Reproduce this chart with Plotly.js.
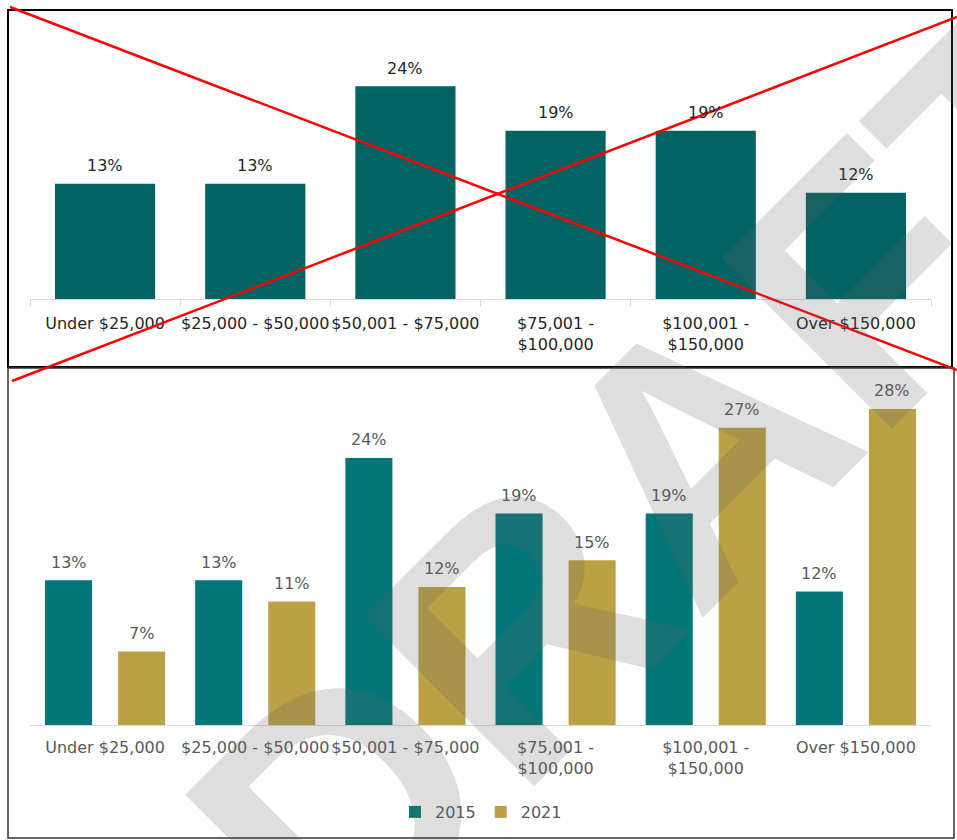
<!DOCTYPE html>
<html>
<head>
<meta charset="utf-8">
<script src="https://cdn.plot.ly/plotly-3.0.1.min.js"></script>
<style>html,body{margin:0;padding:0;background:#fff;}#chart{width:957px;height:840px;}</style>
</head>
<body>
<div id="chart"></div>
<script>
// ---- data ----
const categories = ['Under $25,000', '$25,000 - $50,000', '$50,001 - $75,000', '$75,001 - $100,000', '$100,001 - $150,000', 'Over $150,000'];
const tickLabels = ['Under $25,000', '$25,000 - $50,000', '$50,001 - $75,000', '$75,001 -<br>$100,000', '$100,001 -<br>$150,000', 'Over $150,000'];
const values2015 = [13.0, 13.0, 24.0, 19.0, 19.0, 12.0];
const values2021 = [6.6, 11.1, 12.4, 14.8, 26.7, 28.4];
const seriesNames = ['2015', '2021'];
const watermarkText = 'DRAFT';

// ---- styles ----
const W = 957, H = 840;
const FONT = 'DejaVu Sans, sans-serif';
const px = v => v / W;
const py = v => 1 - v / H;
const fmt = v => Math.round(v) + '%';

const traces = [
  { type: 'bar', x: categories, y: values2015, xaxis: 'x', yaxis: 'y', width: 0.667,
    marker: { color: '#036363' }, showlegend: false, hoverinfo: 'skip' },
  { type: 'bar', name: seriesNames[0], x: categories, y: values2015, xaxis: 'x2', yaxis: 'y2',
    marker: { color: '#027678' }, hoverinfo: 'skip' },
  { type: 'bar', name: seriesNames[1], x: categories, y: values2021, xaxis: 'x2', yaxis: 'y2',
    marker: { color: '#BBA045' }, hoverinfo: 'skip' }
];

const annotations = [];
categories.forEach((c, i) => {
  annotations.push({ xref: 'x', yref: 'y', x: c, y: values2015[i], text: fmt(values2015[i]),
    showarrow: false, yanchor: 'middle', yshift: 18, font: { family: FONT, size: 16, color: '#262626' } });
  annotations.push({ xref: 'x2', yref: 'y2', x: c, y: values2015[i], text: fmt(values2015[i]),
    showarrow: false, yanchor: 'middle', yshift: 18, xshift: -36.5, font: { family: FONT, size: 16, color: '#595959' } });
  annotations.push({ xref: 'x2', yref: 'y2', x: c, y: values2021[i], text: fmt(values2021[i]),
    showarrow: false, yanchor: 'middle', yshift: 18, xshift: 36.5, font: { family: FONT, size: 16, color: '#595959' } });
});
// DRAFT watermark
annotations.push({ xref: 'paper', yref: 'paper', x: px(672), y: py(476), text: watermarkText,
  showarrow: false, textangle: -45, xanchor: 'center', yanchor: 'middle',
  font: { family: 'Liberation Sans, Arial, sans-serif', size: 350, weight: 'bold', color: 'rgba(97,97,97,0.21)' } });

const layout = {
  width: W, height: H,
  margin: { l: 0, r: 0, t: 0, b: 0 },
  paper_bgcolor: '#ffffff', plot_bgcolor: 'rgba(0,0,0,0)',
  barmode: 'group', bargap: 0.027, bargroupgap: 0.356,
  font: { family: FONT, size: 16, color: '#595959' },
  xaxis: { domain: [px(30), px(931)], anchor: 'y', type: 'category', tickangle: 0,
    tickvals: categories, ticktext: tickLabels, showline: true, linecolor: '#d9d9d9', linewidth: 1,
    ticks: 'outside', tickson: 'boundaries', ticklen: 7, tickcolor: '#d9d9d9', ticklabelstandoff: 10,
    tickfont: { family: FONT, size: 16, color: '#262626' }, showgrid: false, zeroline: false, fixedrange: true },
  yaxis: { domain: [py(299), py(40)], anchor: 'x', range: [0, (299 - 40) / 8.86], visible: false, fixedrange: true },
  xaxis2: { domain: [px(30), px(931)], anchor: 'y2', type: 'category', tickangle: 0,
    tickvals: categories, ticktext: tickLabels, showline: true, linecolor: '#d9d9d9', linewidth: 1,
    ticks: '', ticklabelstandoff: 8, tickfont: { family: FONT, size: 16, color: '#595959' },
    showgrid: false, zeroline: false, fixedrange: true },
  yaxis2: { domain: [py(725), py(390)], anchor: 'x2', range: [0, (725 - 390) / 11.13], visible: false, fixedrange: true },
  legend: { orientation: 'h', x: px(481), xanchor: 'center', y: py(812), yanchor: 'middle',
    font: { family: FONT, size: 16, color: '#595959' }, itemwidth: 30, bgcolor: 'rgba(0,0,0,0)' },
  shapes: [
    { type: 'rect', xref: 'paper', yref: 'paper', x0: px(8), x1: px(952), y0: py(367), y1: py(10),
      line: { color: '#000000', width: 2 }, layer: 'above' },
    { type: 'rect', xref: 'paper', yref: 'paper', x0: px(8), x1: px(954), y0: py(838), y1: py(368),
      line: { color: '#333333', width: 1.5 }, layer: 'above' },
    { type: 'line', xref: 'paper', yref: 'paper', x0: px(10), y0: py(7), x1: px(957), y1: py(370),
      line: { color: '#ff0000', width: 2.5 }, layer: 'above' },
    { type: 'line', xref: 'paper', yref: 'paper', x0: px(12), y0: py(381), x1: px(957), y1: py(17),
      line: { color: '#ff0000', width: 2.5 }, layer: 'above' }
  ],
  annotations: annotations
};

Plotly.newPlot('chart', traces, layout, { displayModeBar: false, staticPlot: true });
</script>
</body>
</html>
